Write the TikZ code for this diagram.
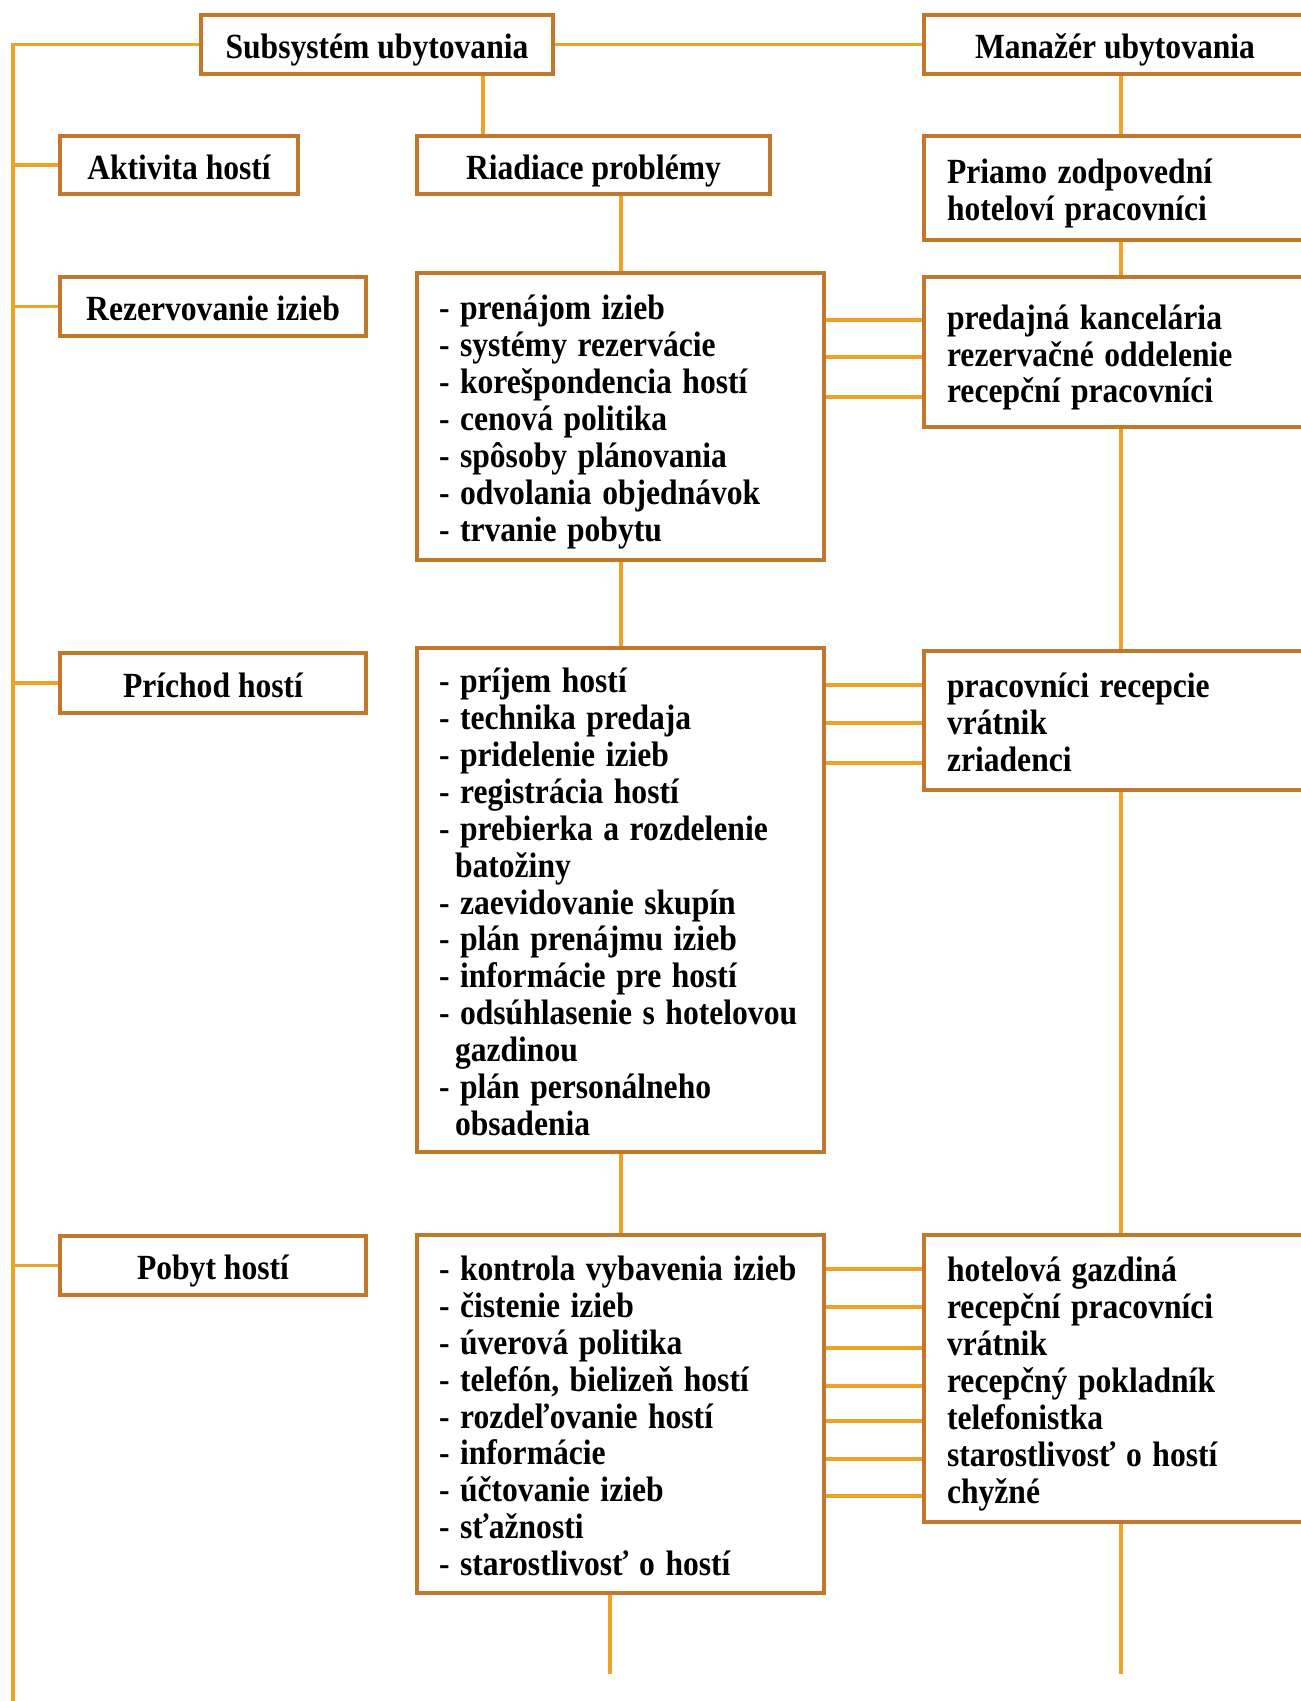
\documentclass[tikz,border=0pt]{standalone}
\usepackage{fontspec}
\setmainfont{Liberation Serif}
\usepackage{graphicx}
\definecolor{boxc}{RGB}{193,120,45}
\definecolor{linkc}{RGB}{240,161,40}
% text is set slightly tall and narrow, and sits a little low in its box
\newcommand\tallbox[1]{\raisebox{-5pt}[\height][\depth]{\scalebox{1}[1.12]{\begin{tabular}{@{}l@{}}#1\end{tabular}}}}
\newcommand\cont{\hspace*{12pt}}

\begin{document}
\begin{tikzpicture}[x=0.75pt,y=-0.75pt,
  every node/.style={font=\fontsize{23.7}{24.7}\selectfont\bfseries},
  frame/.style={draw=boxc,line width=3.5pt,fill=white,inner sep=0pt},
  titlebox/.style={frame,align=center},
  listbox/.style={frame,inner xsep=16.5pt,text width=272.25pt,align=left,minimum width=305.25pt},
  staffbox/.style={frame,inner xsep=17.25pt,text width=252pt,align=left,minimum width=286.5pt},
  link/.style={draw=linkc,line width=2.9pt}]

\useasboundingbox (0,0) rectangle (1301,1701);
\clip (0,0) rectangle (1301,1701);

% column positions of the vertical links
\coordinate (trunk) at (13,45);
\coordinate (cA) at (621,0);
\coordinate (cB) at (1121,0);
\coordinate (cC) at (483,0);
\coordinate (cD) at (610,0);
\coordinate (endL) at (13,1701);
\coordinate (endM) at (610,1674);
\coordinate (endR) at (1121,1674);

% header row
\node[titlebox,minimum width=264pt,minimum height=44.25pt] (sub) at (377,44.5) {\tallbox{Subsystém ubytovania}};
\node[titlebox,minimum width=286.5pt,minimum height=44.25pt] (man) at (1115,44.5) {\tallbox{Manažér ubytovania}};

% left column: guest activities
\node[titlebox,minimum width=178.5pt,minimum height=43.5pt] (akt) at (179,165) {\tallbox{Aktivita hostí}};
\node[titlebox,minimum width=229.5pt,minimum height=44.25pt] (rez) at (213,306.5) {\tallbox{Rezervovanie izieb}};
\node[titlebox,minimum width=229.5pt,minimum height=45pt] (pri) at (213,683) {\tallbox{Príchod hostí}};
\node[titlebox,minimum width=229.5pt,minimum height=44.25pt] (pob) at (213,1265.5) {\tallbox{Pobyt hostí}};

% middle column: management problems
\node[titlebox,minimum width=264.75pt,minimum height=43.5pt] (ria) at (593.5,165) {\tallbox{Riadiace problémy}};
\node[listbox,minimum height=215.25pt] (l1) at (620.5,416.5) {\tallbox{%
- prenájom izieb\\
- systémy rezervácie\\
- korešpondencia hostí\\
- cenová politika\\
- spôsoby plánovania\\
- odvolania objednávok\\
- trvanie pobytu}};
\node[listbox,minimum height=378pt] (l2) at (620.5,900) {\tallbox{%
- príjem hostí\\
- technika predaja\\
- pridelenie izieb\\
- registrácia hostí\\
- prebierka a rozdelenie\\
\cont batožiny\\
- zaevidovanie skupín\\
- plán prenájmu izieb\\
- informácie pre hostí\\
- odsúhlasenie s hotelovou\\
\cont gazdinou\\
- plán personálneho\\
\cont obsadenia}};
\node[listbox,minimum height=268.5pt] (l3) at (620.5,1414) {\tallbox{%
- kontrola vybavenia izieb\\
- čistenie izieb\\
- úverová politika\\
- telefón, bielizeň hostí\\
- rozdeľovanie hostí\\
- informácie\\
- účtovanie izieb\\
- sťažnosti\\
- starostlivosť o hostí}};

% right column: responsible staff
\node[staffbox,minimum height=78pt] (prz) at (1115,188) {\tallbox{Priamo zodpovední\\hoteloví pracovníci}};
\node[staffbox,minimum height=112.5pt] (r2) at (1115,352) {\tallbox{%
predajná kancelária\\
rezervačné oddelenie\\
recepční pracovníci}};
\node[staffbox,minimum height=104.25pt] (r3) at (1115,720.5) {\tallbox{%
pracovníci recepcie\\
vrátnik\\
zriadenci}};
\node[staffbox,minimum height=215.25pt] (r4) at (1115,1378.5) {\tallbox{%
hotelová gazdiná\\
recepční pracovníci\\
vrátnik\\
recepčný pokladník\\
telefonistka\\
starostlivosť o hostí\\
chyžné}};

% trunk on the left
\draw[link] (sub.west) -- (sub.west -| trunk) -- (endL);
\foreach \b in {akt,rez,pri,pob} \draw[link] (\b.west) -- (\b.west -| trunk);

% header links
\draw[link] (sub.east) -- (man.west);
\draw[link] (sub.south -| cC) -- (ria.north -| cC);

% middle chain
\draw[link] (ria.south -| cA) -- (l1.north -| cA);
\draw[link] (l1.south -| cA) -- (l2.north -| cA);
\draw[link] (l2.south -| cA) -- (l3.north -| cA);
\draw[link] (l3.south -| cD) -- (endM);

% right chain
\draw[link] (man.south -| cB) -- (prz.north -| cB);
\draw[link] (prz.south -| cB) -- (r2.north -| cB);
\draw[link] (r2.south -| cB) -- (r3.north -| cB);
\draw[link] (r3.south -| cB) -- (r4.north -| cB);
\draw[link] (r4.south -| cB) -- (endR);

% rungs between tasks and staff
\foreach \y in {320,357,397} \draw[link] (l1.east |- 0,\y) -- (r2.west |- 0,\y);
\foreach \y in {685,723,763} \draw[link] (l2.east |- 0,\y) -- (r3.west |- 0,\y);
\foreach \y in {1269,1307,1348,1386,1421,1459,1496} \draw[link] (l3.east |- 0,\y) -- (r4.west |- 0,\y);
\end{tikzpicture}
\end{document}
